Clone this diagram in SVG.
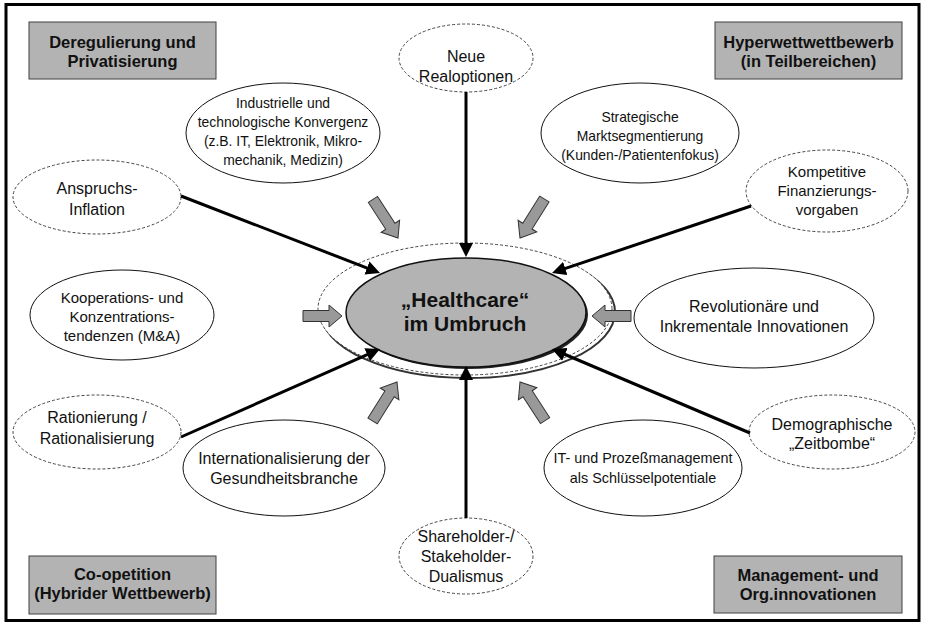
<svg xmlns="http://www.w3.org/2000/svg" width="925" height="627" viewBox="0 0 925 627">
<defs>
<style>
text{font-family:"Liberation Sans",Arial,sans-serif;fill:#111;text-anchor:middle}
.t{font-size:16px}
.s{font-size:13.9px}
.m{font-size:15px}
.b{font-size:16.5px;font-weight:bold}
.c{font-size:21px;font-weight:bold}
.box{fill:#b3b3b3;stroke:#404040;stroke-width:1}
.sol{fill:#fff;stroke:#111;stroke-width:1}
.dash{fill:#fff;stroke:#444;stroke-width:1;stroke-dasharray:3 2}
.blk{fill:#999;stroke:#333;stroke-width:1;stroke-linejoin:miter}
.ln{stroke:#000;stroke-width:3;fill:none;marker-end:url(#ah)}
</style>
<marker id="ah" markerUnits="userSpaceOnUse" markerWidth="16" markerHeight="14" refX="10" refY="7" orient="auto">
<path d="M0,0 L14,7 L0,14 Z" fill="#000"/>
</marker>
<path id="fat" d="M-39,-5.5 L-13,-5.5 L-13,-11 L0,0 L-13,11 L-13,5.5 L-39,5.5 Z"/>
<path id="fatd" d="M-46,-5.5 L-14,-5.5 L-14,-11 L0,0 L-14,11 L-14,5.5 L-46,5.5 Z"/>
</defs>
<rect x="0" y="0" width="925" height="627" fill="#fff"/>
<rect x="6" y="4.5" width="913" height="616" fill="none" stroke="#000" stroke-width="3"/>

<g id="box-dereg"><rect class="box" x="29" y="22" width="187" height="57"/><text class="b" x="122.5" y="48">Deregulierung und</text><text class="b" x="122.5" y="67">Privatisierung</text></g>
<g id="box-hyper"><rect class="box" x="715" y="22" width="187" height="57"/><text class="b" x="808.5" y="48">Hyperwettwettbewerb</text><text class="b" x="808.5" y="67">(in Teilbereichen)</text></g>
<g id="box-coop"><rect class="box" x="29" y="556" width="187" height="58"/><text class="b" x="122.5" y="580">Co-opetition</text><text class="b" x="122.5" y="599">(Hybrider Wettbewerb)</text></g>
<g id="box-mgmt"><rect class="box" x="714" y="556" width="188" height="57"/><text class="b" x="808" y="581">Management- und</text><text class="b" x="808" y="600">Org.innovationen</text></g>

<g id="ring">
<ellipse cx="468" cy="312" rx="147" ry="66" fill="none" stroke="#333" stroke-width="2"/>
<ellipse cx="465" cy="309" rx="147" ry="66" fill="#fff" stroke="#444" stroke-width="1" stroke-dasharray="3 2"/>
</g>
<g id="center">
<ellipse cx="468" cy="314.5" rx="120" ry="54.5" fill="#222"/>
<ellipse cx="466" cy="312.5" rx="120" ry="54.5" fill="#b3b3b3" stroke="#111" stroke-width="1.5"/>
<text class="c" x="465" y="307">„Healthcare“</text>
<text class="c" x="465" y="331">im Umbruch</text>
</g>

<g id="n-neue"><ellipse class="dash" cx="466" cy="58" rx="67" ry="34"/><text class="t" x="466" y="62">Neue</text><text class="t" x="466" y="82">Realoptionen</text></g>
<g id="n-indus"><ellipse class="sol" cx="283" cy="133" rx="97" ry="50"/><text class="s" x="283" y="108">Industrielle und</text><text class="s" x="283" y="127">technologische Konvergenz</text><text class="s" x="283" y="146">(z.B. IT, Elektronik, Mikro-</text><text class="s" x="283" y="165">mechanik, Medizin)</text></g>
<g id="n-strat"><ellipse class="sol" cx="640" cy="133" rx="99" ry="50"/><text class="s" x="640" y="122">Strategische</text><text class="s" x="640" y="141">Marktsegmentierung</text><text class="s" x="640" y="160">(Kunden-/Patientenfokus)</text></g>
<g id="n-anspr"><ellipse class="dash" cx="97" cy="197" rx="84" ry="37"/><text class="t" x="97" y="194">Anspruchs-</text><text class="t" x="97" y="215">Inflation</text></g>
<g id="n-kompet"><ellipse class="dash" cx="827" cy="191" rx="81" ry="41"/><text class="m" x="827" y="177">Kompetitive</text><text class="m" x="827" y="196">Finanzierungs-</text><text class="m" x="827" y="215">vorgaben</text></g>
<g id="n-koop"><ellipse class="sol" cx="122" cy="315" rx="92" ry="45"/><text class="m" x="122" y="303">Kooperations- und</text><text class="m" x="122" y="322">Konzentrations-</text><text class="m" x="122" y="341">tendenzen (M&amp;A)</text></g>
<g id="n-revol"><ellipse class="sol" cx="754" cy="318" rx="120" ry="50"/><text class="t" x="754" y="312">Revolutionäre und</text><text class="t" x="754" y="332">Inkrementale Innovationen</text></g>
<g id="n-ration"><ellipse class="dash" cx="97" cy="432" rx="84" ry="37"/><text class="t" x="97" y="423">Rationierung /</text><text class="t" x="97" y="444">Rationalisierung</text></g>
<g id="n-demo"><ellipse class="dash" cx="832" cy="432" rx="83" ry="37"/><text class="t" x="832" y="430">Demographische</text><text class="t" x="832" y="449">„Zeitbombe“</text></g>
<g id="n-intl"><ellipse class="sol" cx="284" cy="468" rx="101" ry="48"/><text class="t" x="284" y="464">Internationalisierung der</text><text class="t" x="284" y="484">Gesundheitsbranche</text></g>
<g id="n-it"><ellipse class="sol" cx="643" cy="468" rx="99" ry="48"/><text class="s" x="643" y="463" style="font-size:14.4px">IT- und Prozeßmanagement</text><text class="s" x="643" y="483" style="font-size:14.4px">als Schlüsselpotentiale</text></g>
<g id="n-share"><ellipse class="dash" cx="466" cy="556" rx="67" ry="38"/><text class="t" x="466" y="542">Shareholder-/</text><text class="t" x="466" y="562">Stakeholder-</text><text class="t" x="466" y="582">Dualismus</text></g>

<g id="connectors">
<line class="ln" x1="466" y1="92" x2="466" y2="253"/>
<line class="ln" x1="181" y1="196" x2="376.3" y2="271.6"/>
<line class="ln" x1="751" y1="206" x2="555.8" y2="271.7"/>
<line class="ln" x1="181" y1="437" x2="376.3" y2="350.6"/>
<line class="ln" x1="750" y1="433" x2="555.7" y2="350.5"/>
<line class="ln" x1="466" y1="518" x2="466" y2="370"/>
<use href="#fatd" class="blk" transform="translate(398,238) rotate(57)"/>
<use href="#fatd" class="blk" transform="translate(520,238) rotate(122)"/>
<use href="#fat" class="blk" transform="translate(342,316) rotate(0)"/>
<use href="#fat" class="blk" transform="translate(592,316) rotate(180)"/>
<use href="#fatd" class="blk" transform="translate(397,382) rotate(-58)"/>
<use href="#fatd" class="blk" transform="translate(520,382) rotate(-123)"/>
</g>
</svg>
